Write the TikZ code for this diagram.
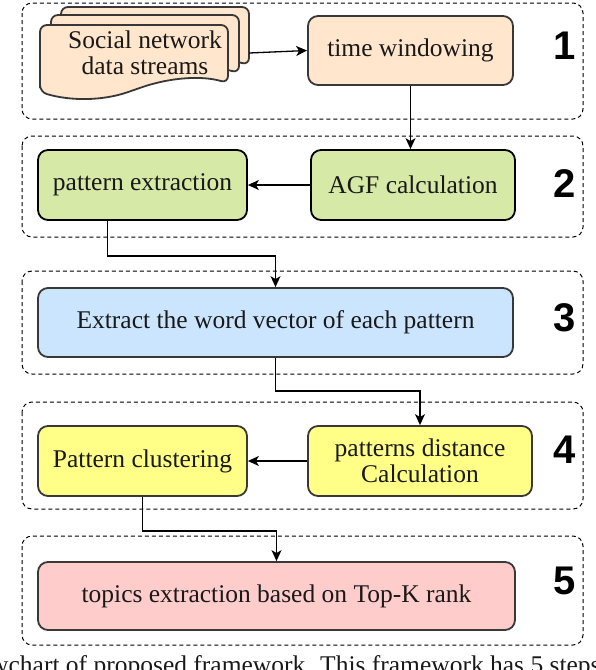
\documentclass[tikz,border=0pt]{standalone}
\usepackage{fontspec}
\setmainfont{Liberation Serif}
\newfontfamily\stepfont{Liberation Sans}
\usetikzlibrary{arrows.meta,positioning}
\definecolor{FlowLine}{HTML}{383838}
\definecolor{FlowPeach}{HTML}{FFE6CC}
\definecolor{FlowGreen}{HTML}{D6E9A6}
\definecolor{FlowBlue}{HTML}{CCE5FF}
\definecolor{FlowYellow}{HTML}{FFFF88}
\definecolor{FlowPink}{HTML}{FFCCCC}

\begin{document}
\begin{tikzpicture}[
  x=1pt,y=-1pt,
  every node/.style={font=\fontsize{25.5}{26}\selectfont,text=black!90},
  stage/.style={draw=black,line width=1pt,dash pattern=on 4pt off 3pt,
    rounded corners=10pt},
  stepnum/.style={font=\stepfont\bfseries\fontsize{40}{40}\selectfont,
    text=black,inner sep=0pt},
  page/.style={draw=FlowLine,fill=FlowPeach,line width=1.8pt,
    rounded corners=7pt},
  box/.style={draw=FlowLine,line width=1.8pt,rounded corners=10pt,
    align=center,inner sep=0pt,minimum height=69pt},
  peach/.style={box,fill=FlowPeach},
  green/.style={box,fill=FlowGreen,draw=black},
  blue/.style={box,fill=FlowBlue},
  yellow/.style={box,fill=FlowYellow},
  pink/.style={box,fill=FlowPink},
  arrow/.style={-{Stealth[length=11pt,width=10pt,inset=3pt]},line width=1.3pt}
]
\useasboundingbox (0,0) rectangle (596,670);
\clip (0,0) rectangle (596,670);

% dashed stage frames and their numbers
\foreach \k/\top/\bot/\mid in {1/3/119/46,2/136/237/184,3/271/374/318,
  4/402/509/450,5/536/645/581} {
  \draw[stage] (22,\top) rectangle (583,\bot);
  \node[stepnum] (num\k) at (565,\mid) {\k};
}

% stack of data stream pages
\foreach \dx/\dy in {21/-18,11/-10,0/0} {
  \draw[page,shift={(\dx,\dy)}] (40,92) -- (40,25) -- (228,25) -- (228,83)
    .. controls (200,75) and (168,78) .. (134,90)
    .. controls (102,101) and (70,101) .. (40,92) -- cycle;
}
\node[minimum width=208pt,align=center] (streams) at (145,53)
  {Social network\\data streams};

\node[peach,minimum width=205pt] (window) at (410.5,50.5) {time windowing};
\node[green,minimum width=204pt,minimum height=70pt] (agf) at (413,185)
  {AGF calculation};
\node[green,minimum width=209pt,minimum height=70pt] (extract) at (142.5,185)
  {pattern extraction};
\node[blue,minimum width=475pt] (vector) at (275.5,322.5)
  {Extract the word vector of each pattern};
\node[yellow,minimum width=224pt,minimum height=70pt] (distance) at (420,461)
  {patterns distance\\Calculation};
\node[yellow,minimum width=209pt,minimum height=70pt] (cluster) at (142.5,461)
  {Pattern clustering};
\node[pink,minimum width=477pt,minimum height=68pt] (topk) at (276.5,596)
  {topics extraction based on Top-K rank};

\draw[arrow] (streams.east) -- (window.west);
\draw[arrow] (window.south) -- (window.south |- agf.north);
\draw[arrow] (agf.west) -- (extract.east);
\draw[arrow] ([xshift=-35pt]extract.south) -- ++(0,35) -| (vector.north);
\draw[arrow] (vector.south) -- ++(0,33) -| (distance.north);
\draw[arrow] (distance.west) -- (cluster.east);
\draw[arrow] (cluster.south) -- ++(0,34) -| (topk.north);

% caption, cut by the lower edge as in the source
\node[anchor=base west,inner sep=0pt] (caption) at (-44,673)
  {Flowchart of proposed framework. This framework has 5 steps};
\end{tikzpicture}
\end{document}
